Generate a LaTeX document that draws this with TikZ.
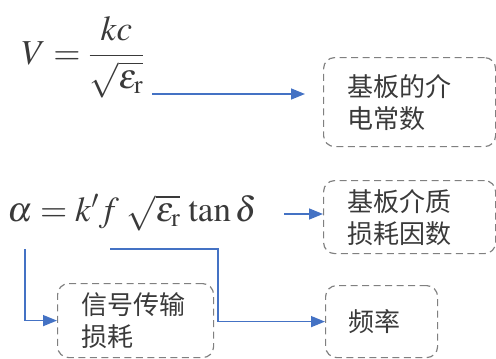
\documentclass[tikz,border=0pt]{standalone}
\usepackage{mathptmx}
\usepackage{fontspec}
\newfontfamily\cjk{Noto Sans CJK SC}
\usetikzlibrary{arrows.meta}
\definecolor{txtgray}{HTML}{3A3A3A}
\definecolor{boxgray}{HTML}{808080}
\definecolor{arrblue}{HTML}{4472C4}
\tikzset{
  box/.style={draw=boxgray, line width=1.2pt, dash pattern=on 7pt off 4.5pt,
    rounded corners=11pt, anchor=north west, inner sep=0pt,
    font=\cjk\fontsize{26}{32}\selectfont, text=txtgray, align=left},
  conn/.style={draw=arrblue, line width=1.5pt,
    -{Triangle[length=14pt,width=11pt]}},
  formula/.style={text=txtgray, inner sep=0pt}
}
\begin{document}
\begin{tikzpicture}[x=1pt,y=-1pt]
\useasboundingbox (0,0) rectangle (496,359);
% formulas
\node[formula] (f1) at (83,57) {\fontsize{35}{42}\selectfont$\displaystyle V=\frac{kc}{\sqrt{\varepsilon_{\mathrm{r}}}}$};
\node[formula] (f2) at (132,213) {\fontsize{35}{42}\selectfont$\alpha=k'f\;\sqrt{\varepsilon_{\mathrm{r}}}\,\tan\delta$};
% boxes
\node[box, minimum width=172, minimum height=89, text width=124] (b1) at (323,57) {基板的介\\电常数};
\node[box, minimum width=172, minimum height=73, text width=124] (b2) at (323,180) {基板介质\\损耗因数};
\node[box, minimum width=112, minimum height=72, text width=66] (b3) at (325,285) {频率};
\node[box, minimum width=156, minimum height=74, text width=108] (b4) at (57,283) {信号传输\\损耗};
% connector start points
\coordinate (s1) at (152,94);
\coordinate (e1) at (305,94);
\coordinate (s2) at (284,214);
\coordinate (s3) at (110,249);
\coordinate (s4) at (25,249);
% connectors
\draw[conn] (s1) -- (e1);
\draw[conn] (s2) -- (b2.west |- s2);
\draw[conn] (s3) -- (218,249) |- (b3.west);
\draw[conn] (s4) |- (b4.west);
\end{tikzpicture}
\end{document}
